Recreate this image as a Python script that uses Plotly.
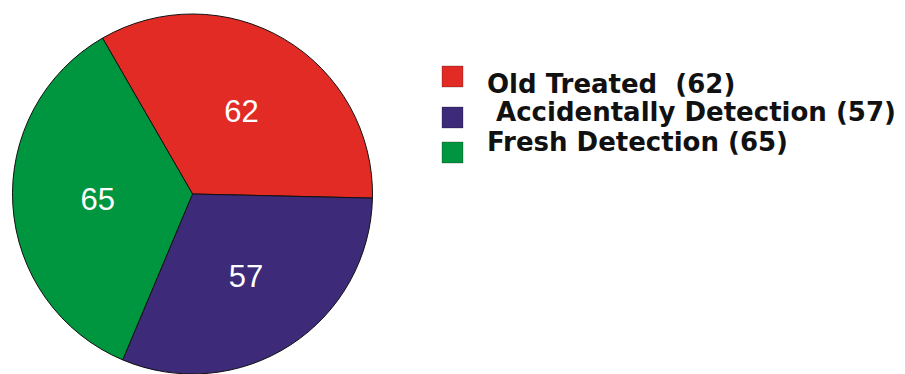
import plotly.graph_objects as go

# ---- data ----
categories = ["Old Treated", "Accidentally Detection", "Fresh Detection"]
values = [62, 57, 65]
legend_labels = ["Old Treated\u00a0\u00a0(62)", "\u00a0Accidentally Detection (57)", "Fresh Detection (65)"]
colors = ["#E32B26", "#3D2A79", "#00953F"]

W, H = 905, 374

fig = go.Figure()
fig.add_trace(go.Pie(
    labels=categories,
    values=values,
    sort=False,
    direction="clockwise",
    rotation=-30,
    marker=dict(colors=colors, line=dict(color="#111111", width=1)),
    texttemplate="%{value}",
    textposition="inside",
    insidetextorientation="horizontal",
    textfont=dict(family="Liberation Sans, Arial, sans-serif", size=31, color="white"),
    domain=dict(x=[12 / W, 373 / W], y=[0, 1 - 14 / H]),
    showlegend=False,
    hoverinfo="label+value",
))

# ---- custom legend (layout) ----
sq_left, sq_size = 442, 21
sq_tops = [66, 107, 142]
txt_left = 485
txt_mid = [84, 112, 142]
shapes = []
annotations = []
for i, lab in enumerate(legend_labels):
    shapes.append(dict(
        type="rect", xref="paper", yref="paper",
        x0=sq_left / W, x1=(sq_left + sq_size) / W,
        y0=1 - (sq_tops[i] + sq_size) / H, y1=1 - sq_tops[i] / H,
        fillcolor=colors[i], line=dict(color="rgba(0,0,0,0.25)", width=1),
    ))
    annotations.append(dict(
        text=lab, xref="paper", yref="paper",
        x=txt_left / W, y=1 - txt_mid[i] / H,
        xanchor="left", yanchor="middle", showarrow=False,
        font=dict(family="DejaVu Sans", size=26, color="#111111", weight="bold"),
    ))

fig.update_layout(
    width=W, height=H,
    margin=dict(l=0, r=0, t=0, b=0),
    paper_bgcolor="white",
    plot_bgcolor="white",
    shapes=shapes,
    annotations=annotations,
)

fig.write_html("out.html")
